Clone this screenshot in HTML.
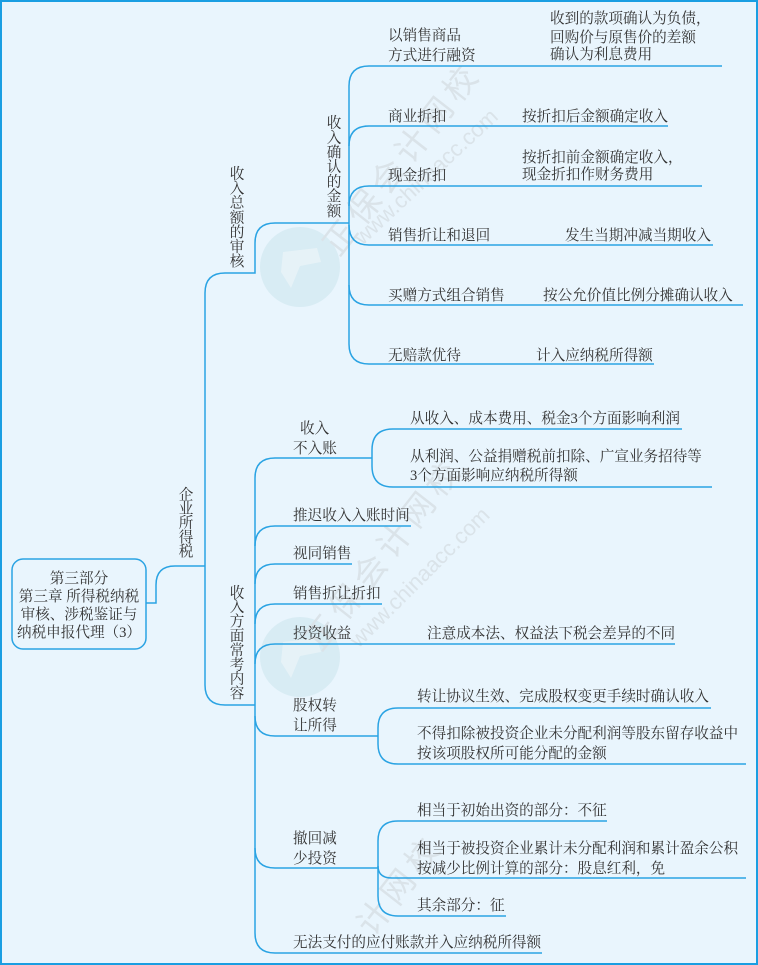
<!DOCTYPE html>
<html><head><meta charset="utf-8">
<style>
html,body{margin:0;padding:0;background:#e9f5fd;width:758px;height:965px;overflow:hidden;}
svg{display:block;overflow:hidden;}
.t{font-family:"Liberation Serif","Noto Serif CJK SC",serif;font-size:14.6px;fill:#333;}
.wm{font-family:"Liberation Sans","Noto Sans CJK SC",sans-serif;fill:#dae3e9;}
.ln{fill:none;stroke:#2aa3e3;stroke-width:1.5;}
</style></head>
<body>
<svg width="758" height="965" viewBox="0 0 758 965" xmlns="http://www.w3.org/2000/svg">
<rect x="0" y="0" width="758" height="965" fill="#e9f5fd"/>

<!-- watermarks -->
<circle cx="300" cy="267" r="40" fill="#d8ecf4"/>
<path d="M283,252 L317,248 L321,262 L300,266 L291,288 L281,272 Z" fill="#eaf4f8" opacity="0.8"/>
<circle cx="300" cy="657" r="40" fill="#d8ecf4"/>
<path d="M283,642 L317,638 L321,652 L300,656 L291,678 L281,662 Z" fill="#eaf4f8" opacity="0.8"/>

<g class="wm">
  <text transform="translate(340,237) rotate(-52)" x="-17" y="12" font-size="33" letter-spacing="6">正保会计网校</text>
  <text transform="translate(357,240) rotate(-43)" x="0" y="8" font-size="22">www.chinaacc.com</text>
  <text transform="translate(322,632) rotate(-52)" x="-17" y="12" font-size="33" letter-spacing="6">正保会计网校</text>
  <text transform="translate(353,643) rotate(-45)" x="0" y="8" font-size="22">www.chinaacc.com</text>
  <text transform="translate(374,917) rotate(-52)" x="-17" y="12" font-size="33" letter-spacing="6">计网校</text>
</g>

<!-- border -->
<rect x="1" y="1" width="756" height="963" fill="none" stroke="#1a9ee2" stroke-width="2"/>

<!-- root box -->
<rect x="12" y="559" width="134" height="90" rx="11" ry="11" fill="#e9f5fd" stroke="#2aa3e3" stroke-width="1.5"/>

<!-- connectors -->
<g class="ln">
  <path d="M146,603 H156 V585 Q156,566 175,566 H205"/>
  <path d="M225,273 Q205,273 205,293 V685 Q205,705 225,705 H255"/>
  <path d="M225,273 H255 V243 Q255,223 275,223 H349"/>
  <path d="M349,223 V86 Q349,66 369,66 H722"/>
  <path d="M349,146 Q349,126 369,126 H668"/>
  <path d="M349,206 Q349,186 369,186 H702"/>
  <path d="M349,223 V344 Q349,364 369,364 H654"/>
  <path d="M349,225 Q349,245 369,245 H713"/>
  <path d="M349,285 Q349,305 369,305 H743"/>
  <path d="M255,705 V478 Q255,458 275,458 H372"/>
  <path d="M255,546 Q255,526 275,526 H411"/>
  <path d="M255,584 Q255,564 275,564 H352"/>
  <path d="M255,624 Q255,604 275,604 H382"/>
  <path d="M255,664 Q255,644 275,644 H675"/>
  <path d="M255,705 V933 Q255,953 275,953 H542"/>
  <path d="M255,716 Q255,736 275,736 H378"/>
  <path d="M255,848 Q255,868 275,868 H378"/>
  <path d="M372,458 V450 Q372,429 393,429 H682"/>
  <path d="M372,458 V466 Q372,487 393,487 H712"/>
  <path d="M378,736 V728 Q378,708 398,708 H711"/>
  <path d="M378,736 V744 Q378,764 398,764 H746"/>
  <path d="M378,868 V841 Q378,821 398,821 H607"/>
  <path d="M378,866 Q378,878 392,878 H746"/>
  <path d="M378,868 V896 Q378,916 398,916 H506"/>
</g>

<g class="t">
  <text x="79" y="583" text-anchor="middle">第三部分</text>
  <text x="79" y="601" text-anchor="middle">第三章  所得税纳税</text>
  <text x="79" y="619" text-anchor="middle">审核、涉税鉴证与</text>
  <text x="79" y="637" text-anchor="middle">纳税申报代理（3）</text>

  <text x="186" y="499.3" text-anchor="middle">企</text>
  <text x="186" y="513.5" text-anchor="middle">业</text>
  <text x="186" y="527.7" text-anchor="middle">所</text>
  <text x="186" y="541.9" text-anchor="middle">得</text>
  <text x="186" y="556.1" text-anchor="middle">税</text>

  <text x="237" y="178.6" text-anchor="middle">收</text>
  <text x="237" y="193.2" text-anchor="middle">入</text>
  <text x="237" y="207.7" text-anchor="middle">总</text>
  <text x="237" y="222.3" text-anchor="middle">额</text>
  <text x="237" y="236.9" text-anchor="middle">的</text>
  <text x="237" y="251.4" text-anchor="middle">审</text>
  <text x="237" y="266.0" text-anchor="middle">核</text>

  <text x="334" y="127.6" text-anchor="middle">收</text>
  <text x="334" y="142.3" text-anchor="middle">入</text>
  <text x="334" y="157.0" text-anchor="middle">确</text>
  <text x="334" y="171.7" text-anchor="middle">认</text>
  <text x="334" y="186.4" text-anchor="middle">的</text>
  <text x="334" y="201.1" text-anchor="middle">金</text>
  <text x="334" y="215.8" text-anchor="middle">额</text>

  <text x="237" y="597.3" text-anchor="middle">收</text>
  <text x="237" y="611.7" text-anchor="middle">入</text>
  <text x="237" y="626.1" text-anchor="middle">方</text>
  <text x="237" y="640.5" text-anchor="middle">面</text>
  <text x="237" y="654.9" text-anchor="middle">常</text>
  <text x="237" y="669.3" text-anchor="middle">考</text>
  <text x="237" y="683.7" text-anchor="middle">内</text>
  <text x="237" y="698.1" text-anchor="middle">容</text>

  <text x="388" y="40">以销售商品</text>
  <text x="388" y="60">方式进行融资</text>
  <text x="388" y="121">商业折扣</text>
  <text x="388" y="180">现金折扣</text>
  <text x="388" y="240">销售折让和退回</text>
  <text x="388" y="300">买赠方式组合销售</text>
  <text x="388" y="360">无赔款优待</text>

  <text x="550" y="23">收到的款项确认为负债，</text>
  <text x="550" y="42">回购价与原售价的差额</text>
  <text x="550" y="59">确认为利息费用</text>
  <text x="522" y="121">按折扣后金额确定收入</text>
  <text x="522" y="162">按折扣前金额确定收入，</text>
  <text x="522" y="179">现金折扣作财务费用</text>
  <text x="565" y="240">发生当期冲减当期收入</text>
  <text x="543" y="300">按公允价值比例分摊确认收入</text>
  <text x="536" y="360">计入应纳税所得额</text>

  <text x="300" y="433">收入</text>
  <text x="293" y="453">不入账</text>
  <text x="293" y="520">推迟收入入账时间</text>
  <text x="293" y="558">视同销售</text>
  <text x="293" y="598">销售折让折扣</text>
  <text x="293" y="638">投资收益</text>
  <text x="293" y="710">股权转</text>
  <text x="293" y="730">让所得</text>
  <text x="293" y="843">撤回减</text>
  <text x="293" y="863">少投资</text>
  <text x="293" y="947">无法支付的应付账款并入应纳税所得额</text>

  <text x="410" y="423">从收入、成本费用、税金3个方面影响利润</text>
  <text x="410" y="461">从利润、公益捐赠税前扣除、广宣业务招待等</text>
  <text x="410" y="480">3个方面影响应纳税所得额</text>
  <text x="427" y="638">注意成本法、权益法下税会差异的不同</text>
  <text x="417" y="701">转让协议生效、完成股权变更手续时确认收入</text>
  <text x="417" y="738">不得扣除被投资企业未分配利润等股东留存收益中</text>
  <text x="417" y="758">按该项股权所可能分配的金额</text>
  <text x="417" y="815">相当于初始出资的部分：不征</text>
  <text x="417" y="853">相当于被投资企业累计未分配利润和累计盈余公积</text>
  <text x="417" y="873">按减少比例计算的部分：股息红利，免</text>
  <text x="417" y="910">其余部分：征</text>
</g>
</svg>
</body></html>
